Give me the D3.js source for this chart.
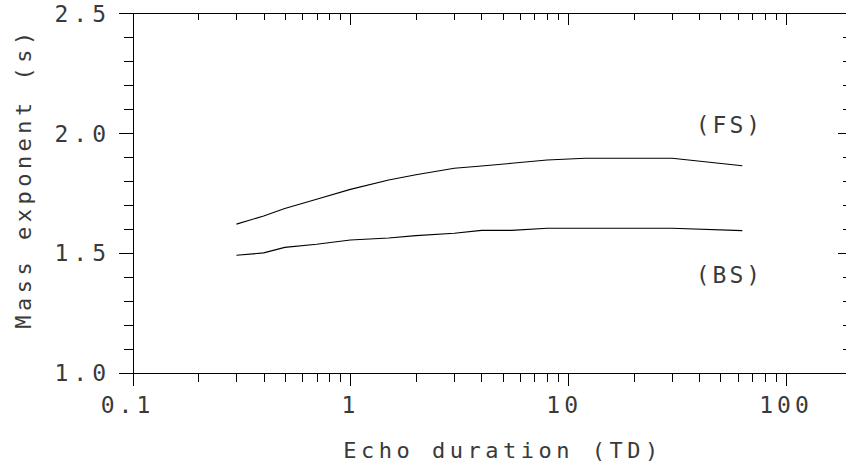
<!DOCTYPE html>
<html>
<head>
<meta charset="utf-8">
<script src="https://cdn.jsdelivr.net/npm/d3@7"></script>
<style>
  body { margin: 0; background: white; }
  text { font-family: "DejaVu Sans Mono", monospace; fill: #3a3a3a; }
  .axis path, .axis line { stroke: black; stroke-width: 1; shape-rendering: crispEdges; }
</style>
</head>
<body>
<svg id="chart"></svg>
<script>
// echo duration (TD) for each sample point
const durations = [0.3, 0.4, 0.5, 0.7, 1.0, 1.5, 2, 3, 4, 5.5, 8, 12, 30, 63];
// mass exponent, forward scatter
const fsValues = [1.62, 1.654, 1.685, 1.724, 1.765, 1.804, 1.826, 1.853, 1.863, 1.874, 1.888, 1.895, 1.895, 1.864];
// mass exponent, back scatter
const bsValues = [1.49, 1.50, 1.523, 1.536, 1.554, 1.562, 1.572, 1.582, 1.594, 1.594, 1.603, 1.603, 1.603, 1.593];

const xMajor = [0.1, 1, 10, 100];
const xMinor = [0.2, 0.3, 0.4, 0.5, 0.6, 0.7, 0.8, 0.9, 2, 3, 4, 5, 6, 7, 8, 9,
                20, 30, 40, 50, 60, 70, 80, 90, 200];
const xLabels = ["0.1", "1", "10", "100"];
const yMajor = [1.0, 1.5, 2.0, 2.5];
const yMinor = [1.1, 1.2, 1.3, 1.4, 1.6, 1.7, 1.8, 1.9, 2.1, 2.2, 2.3, 2.4];
const yLabels = ["1.0", "1.5", "2.0", "2.5"];

const curveLabels = [
  { name: "(FS)", x: 55, y: 2.0 },
  { name: "(BS)", x: 55, y: 1.374 }
];

const width = 846, height = 465;
const plotL = 132.5, plotR = 851.6, plotT = 13.3, plotB = 372.7;

const x = d3.scaleLog().domain([0.1, 200]).range([plotL, plotR]);
const y = d3.scaleLinear().domain([1.0, 2.5]).range([plotB, plotT]);

const svg = d3.select("#chart")
    .attr("width", width)
    .attr("height", height);

// frame + ticks
function addAxis(axis, tx, ty) {
  const g = svg.append("g")
      .attr("class", "axis")
      .attr("transform", `translate(${tx},${ty})`)
      .call(axis);
  g.selectAll("text").remove();
  return g;
}

addAxis(d3.axisBottom(x).tickValues(xMajor).tickSize(13).tickSizeOuter(0), 0, plotB);
addAxis(d3.axisBottom(x).tickValues(xMinor).tickSize(9).tickSizeOuter(0), 0, plotB);
addAxis(d3.axisTop(x).tickValues(xMajor).tickSize(-12).tickSizeOuter(0), 0, plotT);
addAxis(d3.axisTop(x).tickValues(xMinor).tickSize(-7).tickSizeOuter(0), 0, plotT);
addAxis(d3.axisLeft(y).tickValues(yMajor).tickSize(14).tickSizeOuter(0), plotL, 0);
addAxis(d3.axisLeft(y).tickValues(yMinor).tickSize(9).tickSizeOuter(0), plotL, 0);
addAxis(d3.axisRight(y).tickValues(yMajor).tickSize(-14).tickSizeOuter(0), plotR, 0);
addAxis(d3.axisRight(y).tickValues(yMinor).tickSize(-9).tickSizeOuter(0), plotR, 0);

// tick labels (the plotter centred multi-char labels a bit left)
const xShift = [-5, 0, -4, 0];
svg.append("g")
  .selectAll("text")
  .data(xMajor)
  .join("text")
    .attr("x", (d, i) => x(d) + xShift[i])
    .attr("y", 413)
    .attr("text-anchor", "middle")
    .attr("font-size", 23)
    .attr("letter-spacing", 4)
    .text((d, i) => xLabels[i]);

svg.append("g")
  .selectAll("text")
  .data(yMajor)
  .join("text")
    .attr("x", 111)
    .attr("y", d => y(d) + 8.5)
    .attr("text-anchor", "end")
    .attr("font-size", 23)
    .attr("letter-spacing", 5)
    .text((d, i) => yLabels[i]);

// axis titles
svg.append("text")
    .attr("x", 503)
    .attr("y", 458)
    .attr("text-anchor", "middle")
    .attr("font-size", 22)
    .attr("letter-spacing", 4.5)
    .text("Echo duration (TD)");

svg.append("text")
    .attr("transform", "translate(31,178) rotate(-90)")
    .attr("text-anchor", "middle")
    .attr("font-size", 22)
    .attr("letter-spacing", 4.5)
    .text("Mass exponent (s)");

// curves
const line = d3.line()
    .x(d => x(d[0]))
    .y(d => y(d[1]));

[fsValues, bsValues].forEach(vals => {
  svg.append("path")
      .datum(durations.map((t, i) => [t, vals[i]]))
      .attr("fill", "none")
      .attr("stroke", "black")
      .attr("stroke-width", 1.1)
      .attr("d", line);
});

svg.append("g")
  .selectAll("text")
  .data(curveLabels)
  .join("text")
    .attr("x", d => x(d.x))
    .attr("y", d => y(d.y))
    .attr("text-anchor", "middle")
    .attr("font-size", 23)
    .attr("letter-spacing", 3)
    .text(d => d.name);
</script>
</body>
</html>
